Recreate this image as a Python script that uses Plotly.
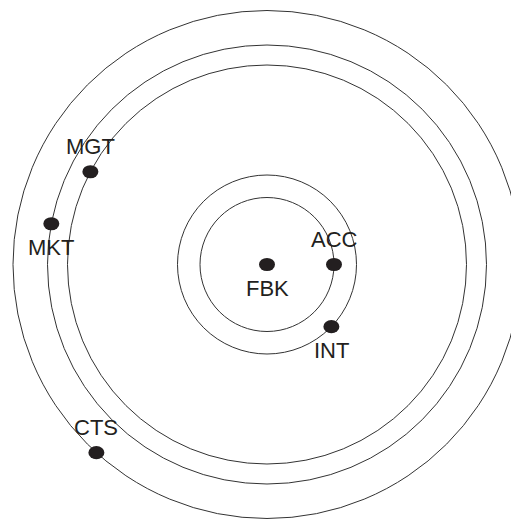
import math
import plotly.graph_objects as go

# Data
names = ["FBK", "ACC", "INT", "MGT", "MKT", "CTS"]
orbit_radius = [0, 67, 89.5, 199.5, 219.5, 254]
angle_deg = [0, 0, -44, 152.3, 169.3, 227.8]
label_side = ["below", "above", "below", "above", "below", "above"]
rings = [67, 89.5, 199.5, 219.5, 254]

W, H = 511, 520
cx_px, cy_px = 267, 264.5

xs = [r * math.cos(math.radians(a)) for r, a in zip(orbit_radius, angle_deg)]
ys = [r * math.sin(math.radians(a)) for r, a in zip(orbit_radius, angle_deg)]

fig = go.Figure()
fig.add_trace(go.Scatter(x=xs, y=ys, mode="markers",
                         marker=dict(size=1, color="rgba(0,0,0,0)"),
                         hoverinfo="text", text=names, showlegend=False))

shapes = []
for r in rings:
    shapes.append(dict(type="circle", xref="x", yref="y",
                       x0=-r, x1=r, y0=-r, y1=r,
                       line=dict(color="#333333", width=1), layer="below"))
for x, y in zip(xs, ys):
    shapes.append(dict(type="circle", xref="x", yref="y",
                       xsizemode="pixel", ysizemode="pixel",
                       xanchor=x, yanchor=y,
                       x0=-8, x1=8, y0=-6.6, y1=6.6,
                       fillcolor="#231f20", line=dict(width=0)))

annotations = []
for n, x, y, s in zip(names, xs, ys, label_side):
    annotations.append(dict(x=x, y=y, text=n, showarrow=False,
                            yshift=25 if s == "above" else -24,
                            font=dict(family="Liberation Sans, Arial", size=22,
                                      color="#231f20")))

fig.update_layout(
    width=W, height=H,
    margin=dict(l=0, r=0, t=0, b=0),
    paper_bgcolor="white", plot_bgcolor="white",
    shapes=shapes, annotations=annotations,
    xaxis=dict(range=[-cx_px, W - cx_px], visible=False, fixedrange=True),
    yaxis=dict(range=[-(H - cy_px), cy_px], visible=False, fixedrange=True),
    showlegend=False,
)

fig.write_html("out.html", config={"displayModeBar": False},
               post_script="document.body.style.margin='0';document.body.style.overflow='hidden';")
